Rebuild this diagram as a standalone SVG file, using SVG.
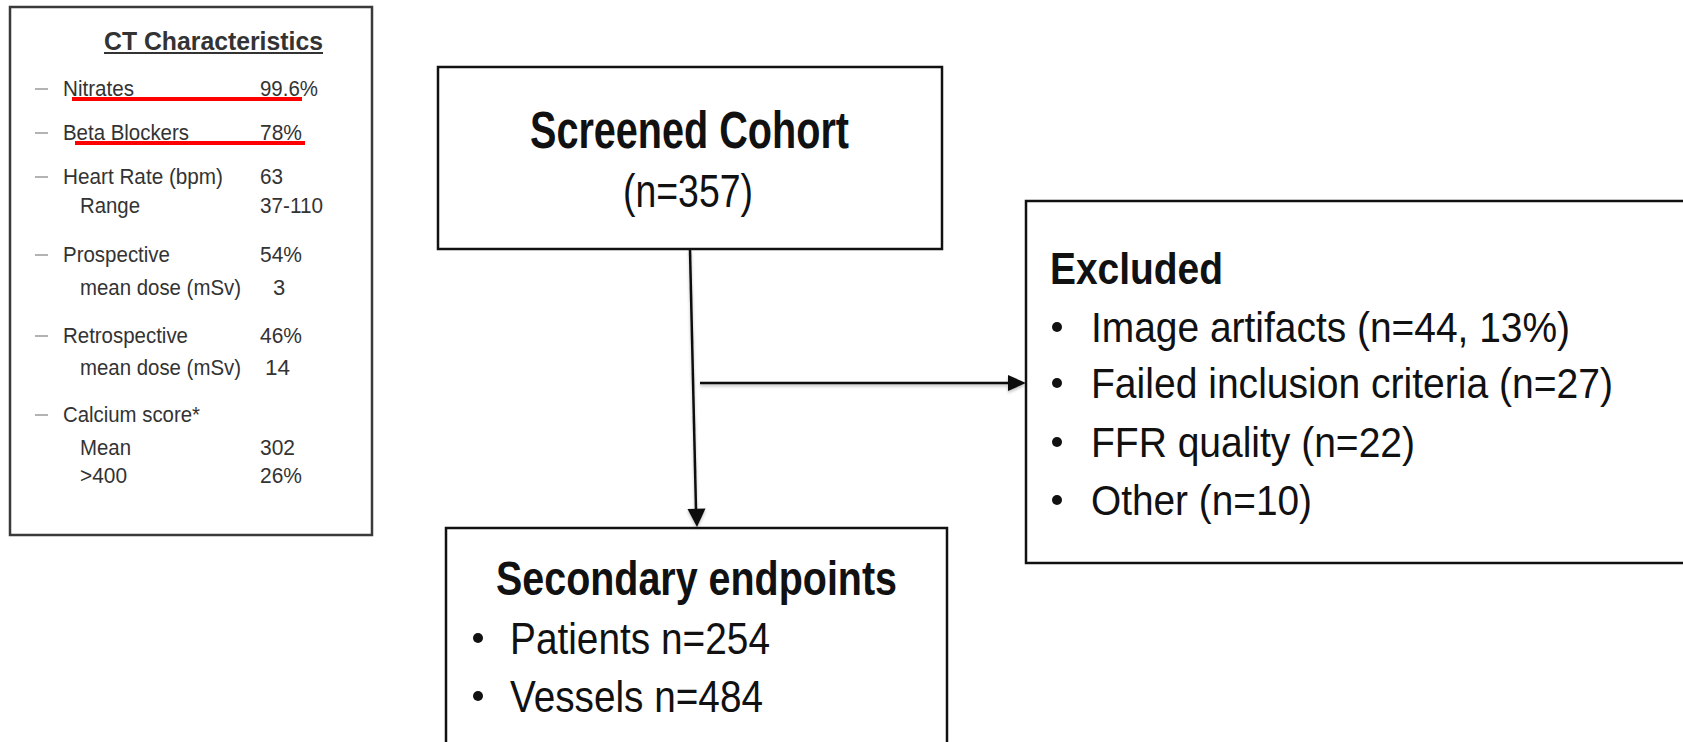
<svg xmlns="http://www.w3.org/2000/svg" width="1683" height="742" viewBox="0 0 1683 742">
  <style>
    .panel { fill: #ffffff; stroke: #3a3a3a; stroke-width: 2.5; }
    .box { fill: #ffffff; stroke: #111111; stroke-width: 2.5; }
    .t { font-family: "Liberation Sans Narrow", "Liberation Sans", Arial, sans-serif; fill: #111111; }
    .b { font-weight: bold; }
    .small { font-family: "Liberation Sans Narrow", "Liberation Sans", Arial, sans-serif; font-size: 22px; fill: #333333; }
    .dash { stroke: #9a9a9a; stroke-width: 1.5; }
    .red { stroke: #ff0000; stroke-width: 4; }
    .conn { stroke: #111111; stroke-width: 2.5; fill: none; }
    .head { fill: #111111; }
  </style>
  <defs>
    <filter id="soft" x="-10%" y="-50%" width="120%" height="200%">
      <feDropShadow dx="0" dy="2" stdDeviation="1.5" flood-color="#000000" flood-opacity="0.25"/>
    </filter>
  </defs>

  <rect width="1683" height="742" fill="#ffffff"/>

  <!-- CT characteristics table -->
  <g id="ct-characteristics">
    <rect class="panel" x="10" y="7" width="362" height="528"/>
    <text class="small b" x="104" y="50" font-size="26" textLength="219" lengthAdjust="spacingAndGlyphs" style="font-size:26px">CT Characteristics</text>
    <line x1="104" y1="53" x2="323" y2="53" stroke="#333333" stroke-width="2"/>

    <line class="dash" x1="35" y1="89" x2="48" y2="89"/>
    <text class="small" x="63" y="96" textLength="71" lengthAdjust="spacingAndGlyphs">Nitrates</text>
    <text class="small" x="260" y="96" textLength="58" lengthAdjust="spacingAndGlyphs">99.6%</text>
    <line class="red" x1="72" y1="99" x2="302" y2="99"/>

    <line class="dash" x1="35" y1="133" x2="48" y2="133"/>
    <text class="small" x="63" y="140" textLength="126" lengthAdjust="spacingAndGlyphs">Beta Blockers</text>
    <text class="small" x="260" y="140" textLength="42" lengthAdjust="spacingAndGlyphs">78%</text>
    <line class="red" x1="75" y1="143" x2="305" y2="143"/>

    <line class="dash" x1="35" y1="177" x2="48" y2="177"/>
    <text class="small" x="63" y="184" textLength="160" lengthAdjust="spacingAndGlyphs">Heart Rate (bpm)</text>
    <text class="small" x="260" y="184" textLength="23" lengthAdjust="spacingAndGlyphs">63</text>
    <text class="small" x="80" y="213" textLength="60" lengthAdjust="spacingAndGlyphs">Range</text>
    <text class="small" x="260" y="213" textLength="63" lengthAdjust="spacingAndGlyphs">37-110</text>

    <line class="dash" x1="35" y1="255" x2="48" y2="255"/>
    <text class="small" x="63" y="262" textLength="107" lengthAdjust="spacingAndGlyphs">Prospective</text>
    <text class="small" x="260" y="262" textLength="42" lengthAdjust="spacingAndGlyphs">54%</text>
    <text class="small" x="80" y="295" textLength="161" lengthAdjust="spacingAndGlyphs">mean dose (mSv)</text>
    <text class="small" x="273" y="295">3</text>

    <line class="dash" x1="35" y1="336" x2="48" y2="336"/>
    <text class="small" x="63" y="343" textLength="125" lengthAdjust="spacingAndGlyphs">Retrospective</text>
    <text class="small" x="260" y="343" textLength="42" lengthAdjust="spacingAndGlyphs">46%</text>
    <text class="small" x="80" y="375" textLength="161" lengthAdjust="spacingAndGlyphs">mean dose (mSv)</text>
    <text class="small" x="265" y="375" textLength="25" lengthAdjust="spacingAndGlyphs">14</text>

    <line class="dash" x1="35" y1="415" x2="48" y2="415"/>
    <text class="small" x="63" y="422" textLength="137" lengthAdjust="spacingAndGlyphs">Calcium score*</text>
    <text class="small" x="80" y="455" textLength="51" lengthAdjust="spacingAndGlyphs">Mean</text>
    <text class="small" x="260" y="455" textLength="35" lengthAdjust="spacingAndGlyphs">302</text>
    <text class="small" x="80" y="483" textLength="47" lengthAdjust="spacingAndGlyphs">&gt;400</text>
    <text class="small" x="260" y="483" textLength="42" lengthAdjust="spacingAndGlyphs">26%</text>
  </g>

  <!-- Screened cohort -->
  <g id="screened-cohort">
    <rect class="box" x="438" y="67" width="504" height="182"/>
    <text class="t b" x="530" y="148" font-size="51" textLength="319" lengthAdjust="spacingAndGlyphs">Screened Cohort</text>
    <text class="t" x="623" y="207" font-size="46" textLength="130" lengthAdjust="spacingAndGlyphs">(n=357)</text>
  </g>

  <!-- Excluded -->
  <g id="excluded">
    <rect class="box" x="1026" y="201" width="670" height="362"/>
    <text class="t b" x="1050" y="284" font-size="44" textLength="173" lengthAdjust="spacingAndGlyphs">Excluded</text>
    <circle cx="1057" cy="327" r="5" fill="#111111"/>
    <text class="t" x="1091" y="342" font-size="43" textLength="479" lengthAdjust="spacingAndGlyphs">Image artifacts (n=44, 13%)</text>
    <circle cx="1057" cy="383" r="5" fill="#111111"/>
    <text class="t" x="1091" y="398" font-size="43" textLength="522" lengthAdjust="spacingAndGlyphs">Failed inclusion criteria (n=27)</text>
    <circle cx="1057" cy="442" r="5" fill="#111111"/>
    <text class="t" x="1091" y="457" font-size="43" textLength="324" lengthAdjust="spacingAndGlyphs">FFR quality (n=22)</text>
    <circle cx="1057" cy="500" r="5" fill="#111111"/>
    <text class="t" x="1091" y="515" font-size="43" textLength="221" lengthAdjust="spacingAndGlyphs">Other (n=10)</text>
  </g>

  <!-- Secondary endpoints -->
  <g id="secondary-endpoints">
    <rect class="box" x="446" y="528" width="501" height="230"/>
    <text class="t b" x="496" y="595" font-size="48" textLength="401" lengthAdjust="spacingAndGlyphs">Secondary endpoints</text>
    <circle cx="478" cy="638" r="5" fill="#111111"/>
    <text class="t" x="510" y="654" font-size="44" textLength="260" lengthAdjust="spacingAndGlyphs">Patients n=254</text>
    <circle cx="478" cy="696" r="5" fill="#111111"/>
    <text class="t" x="510" y="712" font-size="44" textLength="253" lengthAdjust="spacingAndGlyphs">Vessels n=484</text>
  </g>

  <!-- Connectors -->
  <g id="connectors" filter="url(#soft)">
    <line class="conn" x1="690" y1="250" x2="696" y2="510"/>
    <polygon class="head" points="687.5,509 705.5,508.5 697,527"/>
    <line class="conn" x1="700" y1="383" x2="1010" y2="383"/>
    <polygon class="head" points="1008,375 1008,391 1026,383"/>
  </g>
</svg>
